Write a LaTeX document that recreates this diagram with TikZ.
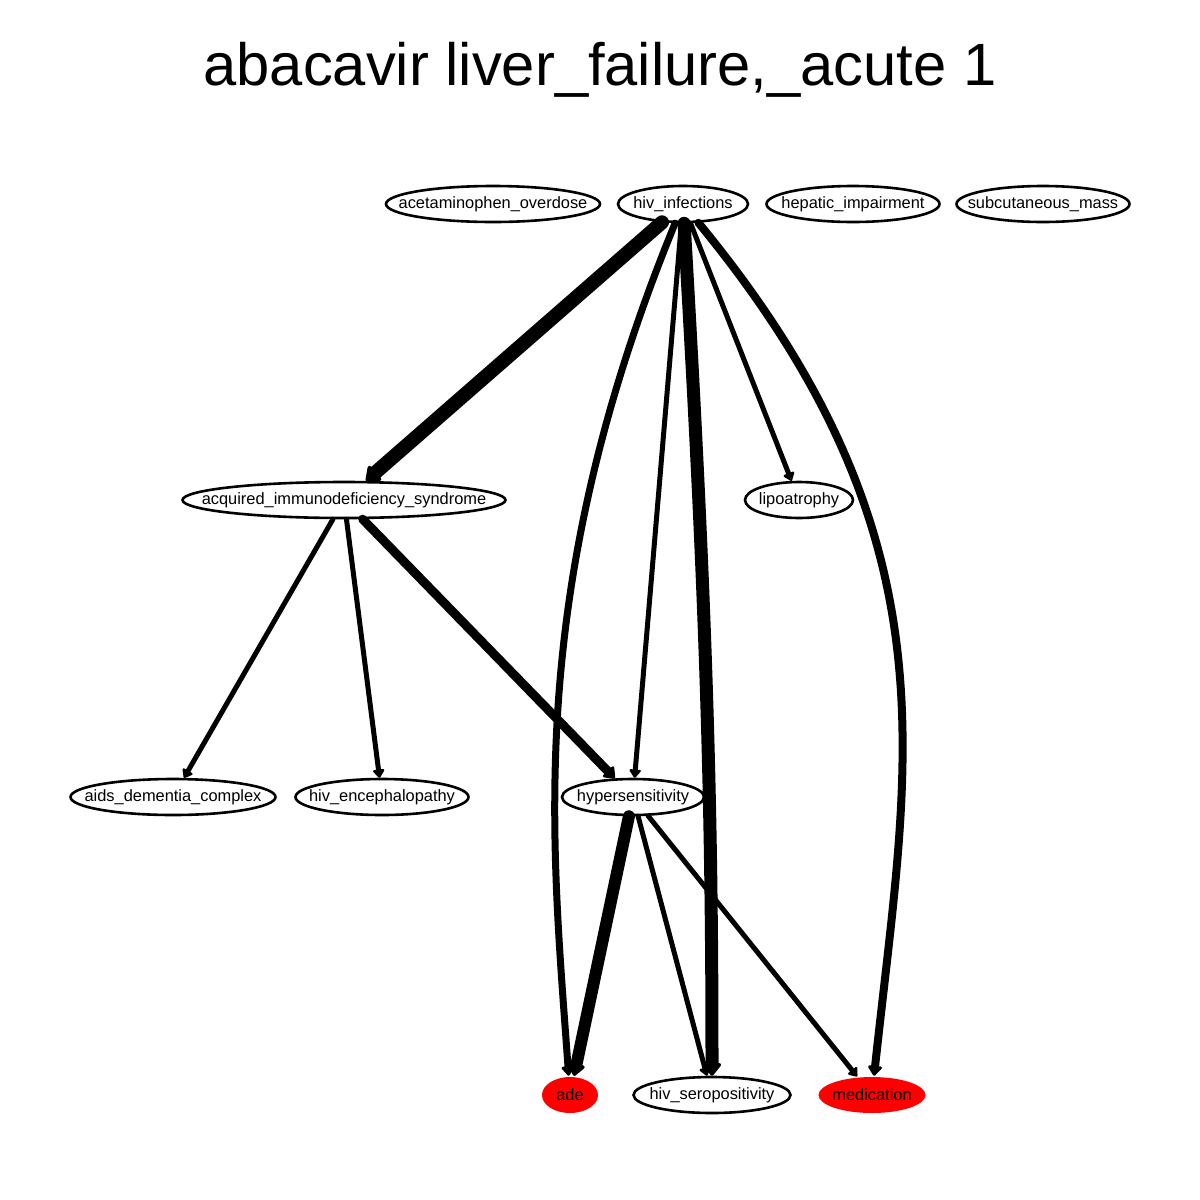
\documentclass[tikz,border=0pt]{standalone}
\usepackage{fontspec}
\setmainfont{Liberation Sans}
\usetikzlibrary{shapes.geometric,arrows.meta}
\begin{document}
\begin{tikzpicture}
[x=1pt,y=-1pt,
  nodedecorate/.style={shape=ellipse,draw,line width=2.6pt,inner ysep=0pt,
    inner xsep=-40pt,minimum height=36pt,font=\fontsize{16.4}{19}\selectfont},%
  reddecorate/.style={nodedecorate,draw=none,fill=red},%
  linedecorate/.style={line cap=round,line join=round,
    -{Triangle[length=6pt 0.6,width=8pt 1,round]}}]
\useasboundingbox (0,0) rectangle (1200,1200);
\node (title) at (600,85) [anchor=base]
  {\fontsize{59.7}{64}\selectfont abacavir liver\_failure,\_acute 1};
%% nodes or vertices
\foreach \nodename/\x/\y/\w/\txt in {acet/493/204/214/acetaminophen\_overdose,
  hiv/683/204/130/hiv\_infections, hep/853/204/173/hepatic\_impairment,
  subq/1043/204/173/subcutaneous\_mass,
  aids/344/500/323/acquired\_immunodeficiency\_syndrome,
  lipo/799/500/108/lipoatrophy, adc/173/797/205/aids\_dementia\_complex,
  enc/382/797/173/hiv\_encephalopathy, hyper/633/797/142/hypersensitivity,
  sero/712/1095/157/hiv\_seropositivity} {
  \node (\nodename) at (\x,\y) [nodedecorate,minimum width=\w pt] {\txt};
}
\node (ade) at (570,1095) [reddecorate,minimum width=56pt] {ade};
\node (med) at (872,1095) [reddecorate,minimum width=107pt] {medication};
%% edges or lines
\path
\foreach \startnode/\endnode/\lw in {hiv/aids/14, hiv/hyper/5, hiv/lipo/5,
  aids/adc/5, aids/enc/5, aids/hyper/9, hyper/ade/12, hyper/sero/5,
  hyper/med/5} {
  (\startnode) edge[linedecorate,line width=\lw pt] (\endnode)
};
\draw[linedecorate,line width=7pt] (hiv) .. controls (523,594) and (552,841) .. (ade);
\draw[linedecorate,line width=13pt] (hiv) .. controls (706,600) and (712,800) .. (sero);
\draw[linedecorate,line width=8pt] (hiv) .. controls (960,541) and (908,760) .. (med);
\end{tikzpicture}
\end{document}
